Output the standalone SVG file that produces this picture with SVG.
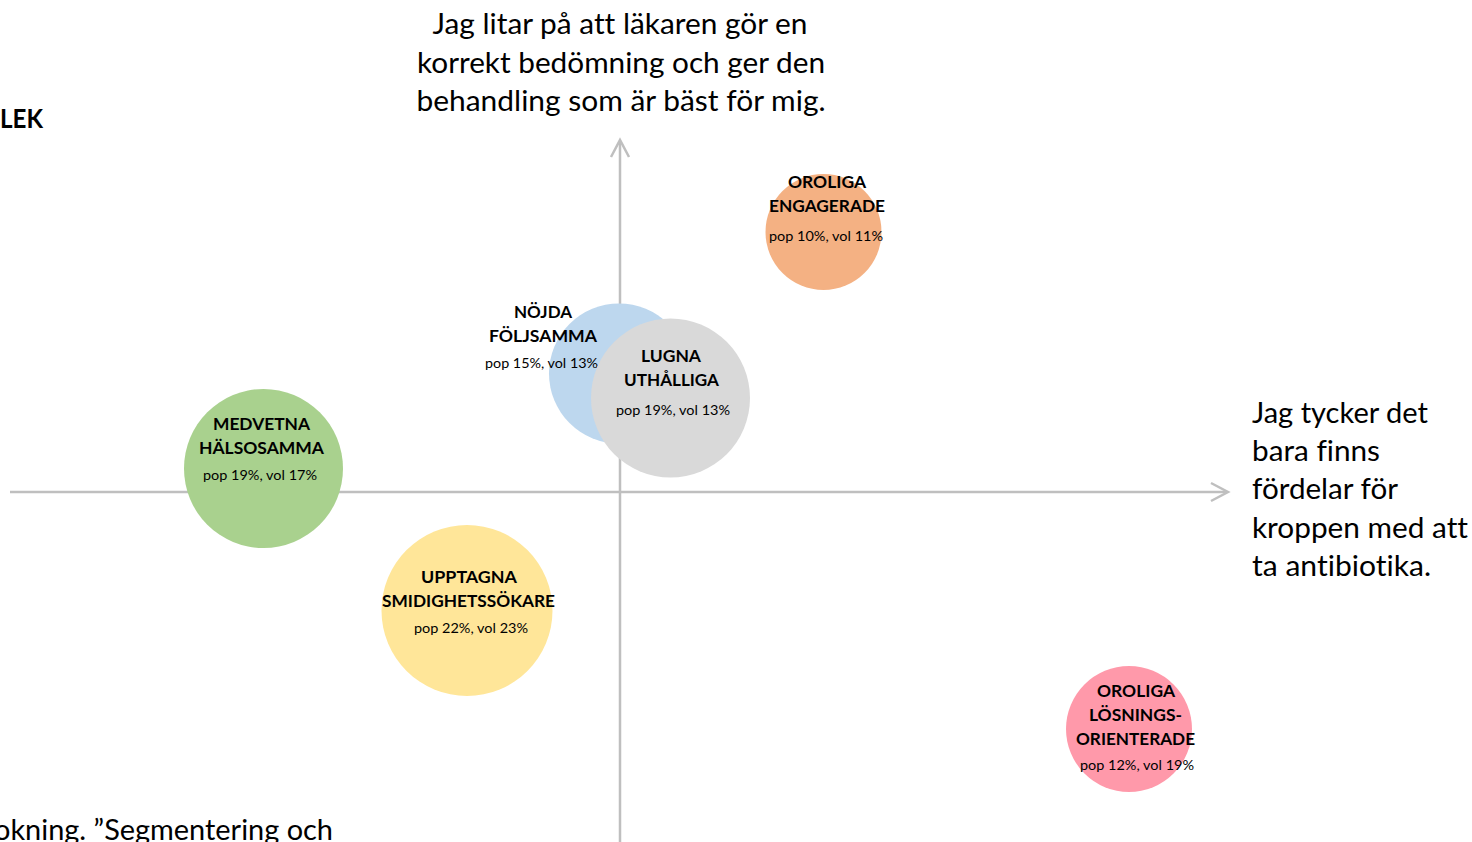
<svg xmlns="http://www.w3.org/2000/svg" width="1472" height="842" viewBox="0 0 1472 842">
<style>
text{font-family:Lato,"Liberation Sans",sans-serif;fill:#000;font-variant-ligatures:none;font-feature-settings:"liga" 0}
.big{font-size:28px}
.lbl{font-size:17px;font-weight:bold;text-anchor:middle}
.sub{font-size:14px;text-anchor:middle}
.ax{stroke:#bfbfbf;stroke-width:2.5;fill:none}
</style>
<rect width="1472" height="842" fill="#fff"/>
<g id="axes">
<line class="ax" x1="10" y1="492" x2="1227" y2="492"/>
<polyline class="ax" points="1211,483 1228,492 1211,501"/>
<line class="ax" x1="620" y1="842" x2="620" y2="141"/>
<polyline class="ax" points="611,157 620,140 629,157"/>
</g>
<g id="titles">
<text class="big" x="620" y="34" text-anchor="middle" textLength="375" lengthAdjust="spacingAndGlyphs">Jag litar på att läkaren gör en</text>
<text class="big" x="621" y="73" text-anchor="middle" textLength="408" lengthAdjust="spacingAndGlyphs">korrekt bedömning och ger den</text>
<text class="big" x="621" y="111" text-anchor="middle" textLength="409" lengthAdjust="spacingAndGlyphs">behandling som är bäst för mig.</text>
<text class="big" x="1252" y="423" textLength="176" lengthAdjust="spacingAndGlyphs">Jag tycker det</text>
<text class="big" x="1252" y="461" textLength="128" lengthAdjust="spacingAndGlyphs">bara finns</text>
<text class="big" x="1252" y="499" textLength="146" lengthAdjust="spacingAndGlyphs">fördelar för</text>
<text class="big" x="1252" y="538" textLength="216" lengthAdjust="spacingAndGlyphs">kroppen med att</text>
<text class="big" x="1252" y="576" textLength="179" lengthAdjust="spacingAndGlyphs">ta antibiotika.</text>
<text x="0" y="128" font-size="26" font-weight="bold" textLength="43" lengthAdjust="spacingAndGlyphs">LEK</text>
<text class="big" x="-6" y="840" textLength="339" lengthAdjust="spacingAndGlyphs">okning. ”Segmentering och</text>
</g>
<g id="oroliga-engagerade">
<circle cx="823.5" cy="232" r="58" fill="#F4B183"/>
<text class="lbl" x="827" y="188" textLength="78" lengthAdjust="spacingAndGlyphs">OROLIGA</text>
<text class="lbl" x="827" y="212" textLength="116" lengthAdjust="spacingAndGlyphs">ENGAGERADE</text>
<text class="sub" x="826" y="241" textLength="114" lengthAdjust="spacingAndGlyphs">pop 10%, vol 11%</text>
</g>
<g id="nojda-foljsamma">
<circle cx="619" cy="373.5" r="70" fill="#BDD7EE"/>
<text class="lbl" x="543" y="318" textLength="58" lengthAdjust="spacingAndGlyphs">NÖJDA</text>
<text class="lbl" x="543" y="342" textLength="108" lengthAdjust="spacingAndGlyphs">FÖLJSAMMA</text>
<text class="sub" x="541.5" y="368" textLength="113" lengthAdjust="spacingAndGlyphs">pop 15%, vol 13%</text>
</g>
<g id="lugna-uthalliga">
<circle cx="670.5" cy="398" r="79.5" fill="#D9D9D9"/>
<text class="lbl" x="671" y="362" textLength="60" lengthAdjust="spacingAndGlyphs">LUGNA</text>
<text class="lbl" x="671.5" y="386" textLength="95" lengthAdjust="spacingAndGlyphs">UTHÅLLIGA</text>
<text class="sub" x="673" y="415" textLength="114" lengthAdjust="spacingAndGlyphs">pop 19%, vol 13%</text>
</g>
<g id="medvetna-halsosamma">
<circle cx="263.5" cy="468.5" r="79.5" fill="#A9D18E"/>
<text class="lbl" x="261.5" y="430" textLength="97" lengthAdjust="spacingAndGlyphs">MEDVETNA</text>
<text class="lbl" x="261.5" y="454" textLength="125" lengthAdjust="spacingAndGlyphs">HÄLSOSAMMA</text>
<text class="sub" x="260" y="480" textLength="114" lengthAdjust="spacingAndGlyphs">pop 19%, vol 17%</text>
</g>
<g id="upptagna-smidighetssokare">
<circle cx="467" cy="610.5" r="85.5" fill="#FFE699"/>
<text class="lbl" x="469" y="583" textLength="96" lengthAdjust="spacingAndGlyphs">UPPTAGNA</text>
<text class="lbl" x="468.5" y="607" textLength="173" lengthAdjust="spacingAndGlyphs">SMIDIGHETSSÖKARE</text>
<text class="sub" x="471" y="633" textLength="114" lengthAdjust="spacingAndGlyphs">pop 22%, vol 23%</text>
</g>
<g id="oroliga-losningsorienterade">
<circle cx="1129" cy="729" r="63" fill="#FF99AA"/>
<text class="lbl" x="1136" y="697" textLength="78" lengthAdjust="spacingAndGlyphs">OROLIGA</text>
<text class="lbl" x="1135.5" y="721" textLength="93" lengthAdjust="spacingAndGlyphs">LÖSNINGS-</text>
<text class="lbl" x="1135.5" y="745" textLength="119" lengthAdjust="spacingAndGlyphs">ORIENTERADE</text>
<text class="sub" x="1137" y="770" textLength="114" lengthAdjust="spacingAndGlyphs">pop 12%, vol 19%</text>
</g>
</svg>
